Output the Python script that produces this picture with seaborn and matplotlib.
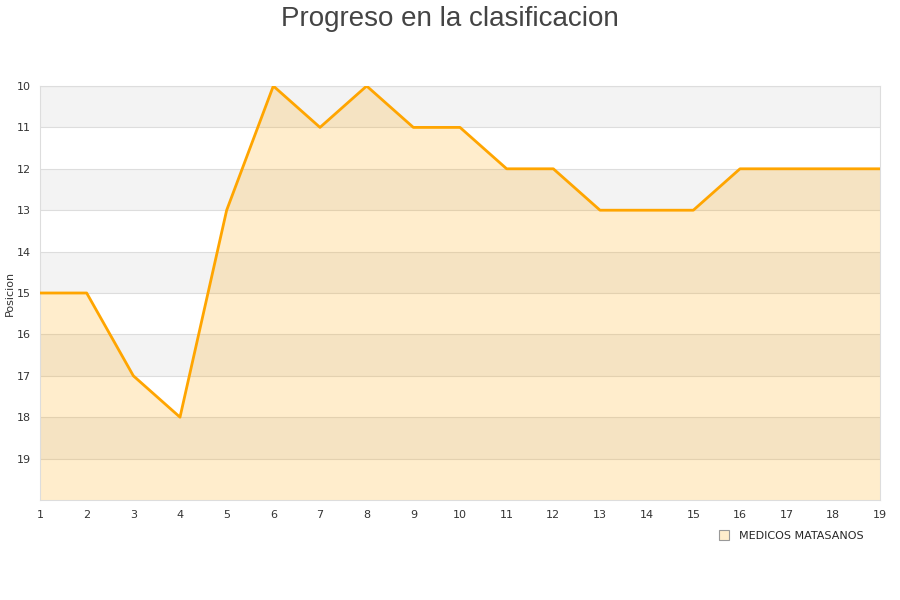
import matplotlib.pyplot as plt
import numpy as np
import pandas as pd
import seaborn as sns

jornadas = list(range(1, 20))
posicion = [15, 15, 17, 18, 13, 10, 11, 10, 11, 11, 12, 12, 13, 13, 13, 12, 12, 12, 12]
equipo = 'MEDICOS MATASANOS'

df = pd.DataFrame({'jornada': jornadas, 'posicion': posicion})

sns.set_style('white')
fig = plt.figure(figsize=(9, 6), dpi=100)
ax = fig.add_axes([40/900, 1 - 500/600, 840/900, 414/600])

# alternating bands
for y0 in range(10, 20):
    if y0 % 2 == 0:
        ax.axhspan(y0, y0 + 1, color='#f3f3f3', lw=0, zorder=0)
    ax.axhline(y0, color='#dddddd', lw=0.8, zorder=1)

ax.fill_between(df['jornada'], df['posicion'], 20, color='#ffa500', alpha=0.2, lw=0, zorder=2)
sns.lineplot(x='jornada', y='posicion', data=df, ax=ax, color='#ffa500', lw=2, zorder=3)

ax.set_xlim(1, 19)
ax.set_ylim(20, 10)
ax.set_xticks(jornadas)
ax.set_yticks(range(10, 20))
ax.tick_params(labelsize=8, colors='#333333', length=0)
ax.tick_params(axis='y', pad=6.5)
ax.tick_params(axis='x', pad=7)
ax.set_xlabel('')
ax.set_ylabel('Posicion', fontsize=8, color='#333333')
ax.yaxis.set_label_coords(-25/840, 0.5)
for s in ['top', 'right', 'bottom', 'left']:
    ax.spines[s].set_color('#dddddd')
    ax.spines[s].set_linewidth(0.8)

fig.text(0.5, 1 - 19/600, 'Progreso en la clasificacion', ha='center', va='center',
         fontsize=20, color='#444444', family='Liberation Sans')

handle = plt.Line2D([], [], marker='s', ls='', markersize=7,
                    markerfacecolor='#ffedcc', markeredgecolor='#999999', markeredgewidth=0.8)
fig.legend([handle], [equipo], loc='center left', bbox_to_anchor=(703/900, 1 - 536/600),
           frameon=False, fontsize=8, handletextpad=0.3)

fig.savefig('out.png', dpi=100)
